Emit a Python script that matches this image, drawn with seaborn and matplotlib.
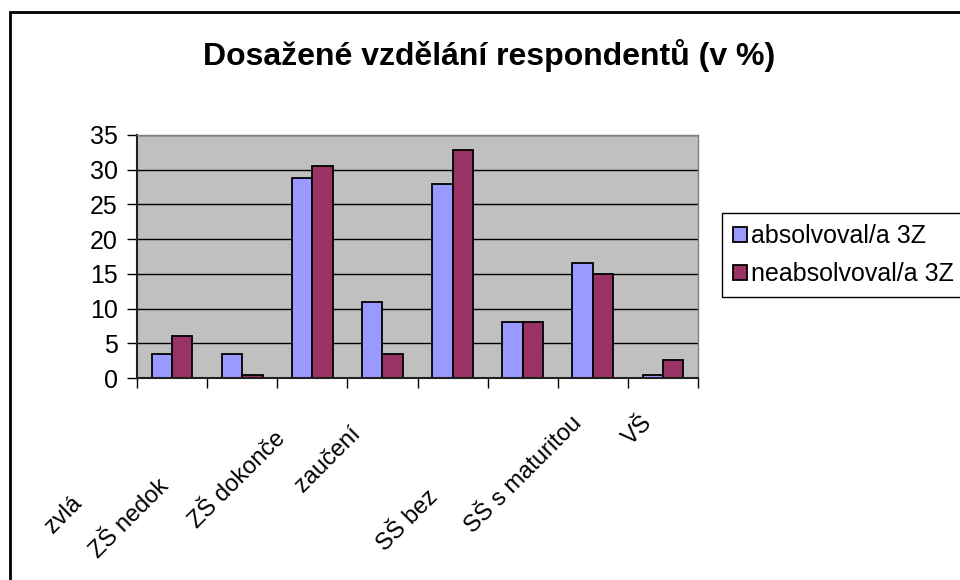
import numpy as np
import pandas as pd
import matplotlib
matplotlib.use("Agg")
import matplotlib.pyplot as plt
import matplotlib.patches as mpatches
import matplotlib.transforms as mtrans
import seaborn as sns

# ── data ─────────────────────────────────────────────
kategorie = ["zvláštní škola", "ZŠ nedokončená", "ZŠ dokončená", "zaučení",
             "vyučení", "SŠ bez maturity", "SŠ s maturitou", "VŠ"]
# popisky tak, jak jsou vidět v grafu (oříznuté)
popisky = ["zvlá", "ZŠ nedok", "ZŠ dokonče", "zaučení", "", "SŠ bez",
           "SŠ s maturitou", "VŠ"]
absolvoval = [3.5, 3.5, 28.8, 10.9, 28.0, 8.1, 16.5, 0.5]
neabsolvoval = [6.0, 0.5, 30.6, 3.5, 32.9, 8.1, 15.0, 2.6]
skupiny = ["absolvoval/a 3Z", "neabsolvoval/a 3Z"]
yticks = [0, 5, 10, 15, 20, 25, 30, 35]

df = pd.DataFrame({
    "kategorie": kategorie * 2,
    "hodnota": absolvoval + neabsolvoval,
    "skupina": [skupiny[0]] * len(kategorie) + [skupiny[1]] * len(kategorie),
})

# ── style ────────────────────────────────────────────
plt.rcParams["font.family"] = ["Liberation Sans", "DejaVu Sans"]
BARVY = {skupiny[0]: "#9999FF", skupiny[1]: "#993366"}
# posun oříznutých popisků po diagonále (px)
posun = [80, 63, 16, 11, 0, 74, 0, 0]

fig = plt.figure(figsize=(9.6, 5.8), dpi=100)
ax = fig.add_axes([137 / 960, 1 - 378 / 580, (698 - 137) / 960, (378 - 135) / 580])
ax.set_facecolor("#C0C0C0")

sns.barplot(data=df, x="kategorie", y="hodnota", hue="skupina",
            hue_order=skupiny, order=kategorie, palette=BARVY,
            saturation=1, width=0.58, edgecolor="black", linewidth=1.3,
            ax=ax, legend=True)

ax.set_xlim(-0.5, len(kategorie) - 0.5)
ax.set_ylim(0, 35)
ax.set_yticks(yticks)
ax.yaxis.grid(True, color="black", linewidth=1)
ax.set_axisbelow(True)
ax.set_xlabel("")
ax.set_ylabel("")

for s in ["top", "right"]:
    ax.spines[s].set_color("#808080")
    ax.spines[s].set_linewidth(1)
for s in ["left", "bottom"]:
    ax.spines[s].set_color("#202020")
    ax.spines[s].set_linewidth(1.5)

ax.tick_params(axis="y", labelsize=18, length=7, width=1, pad=7)
ax.set_xticks(range(len(kategorie)))
ax.set_xticklabels(popisky, rotation=45, ha="right", va="center",
                   rotation_mode="anchor", fontsize=17)
ax.tick_params(axis="x", which="major", length=0, pad=30)
ax.set_xticks(np.arange(-0.5, len(kategorie), 1), minor=True)
ax.tick_params(axis="x", which="minor", length=7, width=1)

for lbl, d in zip(ax.get_xticklabels(), posun):
    lbl.set_transform(lbl.get_transform()
                      + mtrans.ScaledTranslation(-(d + 14) / 100, -d / 100,
                                                 fig.dpi_scale_trans))

handles, labels = ax.get_legend_handles_labels()
ax.get_legend().remove()
leg = fig.legend(handles, labels, loc="upper left",
                 bbox_to_anchor=(722 / 960, 1 - 213 / 580), fontsize=18,
                 frameon=True, fancybox=False, framealpha=1,
                 edgecolor="black", handlelength=0.55, handleheight=0.55,
                 handletextpad=0.15, borderpad=0.45, labelspacing=0.55,
                 borderaxespad=0)
leg.get_frame().set_linewidth(1)

fig.text(0.51, 1 - 56 / 580, "Dosažené vzdělání respondentů (v %)",
         ha="center", va="center", fontsize=23, fontweight="bold")

# rámeček grafu (vpravo a dole oříznutý)
fig.patches.append(mpatches.Rectangle((10 / 960, -0.1), 1.1,
                                      1.1 - 12 / 580, fill=False,
                                      edgecolor="black", linewidth=2,
                                      transform=fig.transFigure))

plt.savefig("out.png", dpi=100)
plt.close()
